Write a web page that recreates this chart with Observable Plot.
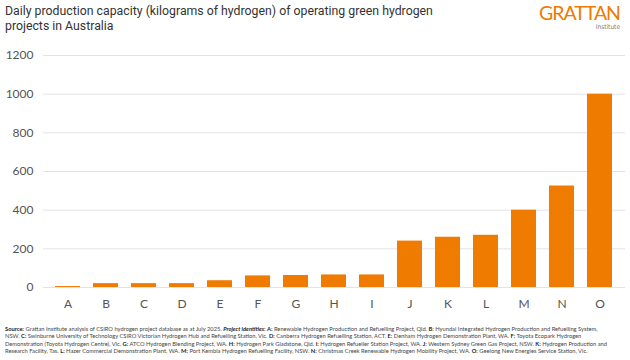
<!DOCTYPE html>
<html><head><meta charset="utf-8">
<script src="https://cdn.jsdelivr.net/npm/d3@7"></script>
<script src="https://cdn.jsdelivr.net/npm/@observablehq/plot@0.6"></script>
<style>
body{margin:0;width:630px;height:360px;background:#fff;position:relative;overflow:hidden;font-family:"Roboto",sans-serif;}
#title{position:absolute;left:5px;top:4px;white-space:nowrap;font-size:12.3px;line-height:15px;color:#333;font-family:"Roboto",sans-serif;}
#logo{position:absolute;right:10px;top:4px;text-align:right;}
#logo .g{font-family:"Lato",sans-serif;font-size:19.5px;color:#ee7a00;letter-spacing:-1px;line-height:17px;}
#logo .i{font-family:"DejaVu Sans Condensed","DejaVu Sans",sans-serif;font-size:6.5px;color:#777;line-height:7px;margin-top:3px;}
#chart{position:absolute;left:0;top:40px;}
#foot{position:absolute;left:5px;top:325px;white-space:nowrap;font-size:5.75px;line-height:7.4px;color:#444;font-family:"Lato",sans-serif;}
#foot b{color:#222;}
</style></head><body>
<div id="title">Daily production capacity (kilograms of hydrogen) of operating green hydrogen<br>projects in Australia</div>
<div id="logo"><div class="g">GRATTAN</div><div class="i">Institute</div></div>
<div id="chart"></div>
<div id="foot"></div>
<script>
const categories = ["A","B","C","D","E","F","G","H","I","J","K","L","M","N","O"];
const capacity = [5, 20, 20, 20, 35, 60, 62, 65, 65, 240, 260, 270, 400, 525, 1000];
const yTicks = [0, 200, 400, 600, 800, 1000, 1200];
const projects = [
 "Renewable Hydrogen Production and Refuelling Project, Qld.",
 "Hyundai Integrated Hydrogen Production and Refuelling System,|NSW.",
 "Swinburne University of Technology CSIRO Victorian Hydrogen Hub and Refuelling Station, Vic.",
 "Canberra Hydrogen Refuelling Station, ACT.",
 "Denham Hydrogen Demonstration Plant, WA.",
 "Toyota Ecopark Hydrogen|Demonstration (Toyota Hydrogen Centre), Vic.",
 "ATCO Hydrogen Blending Project, WA.",
 "Hydrogen Park Gladstone, Qld.",
 "Hydrogen Refueller Station Project, WA.",
 "Western Sydney Green Gas Project, NSW.",
 "Hydrogen Production and|Research Facility, Tas.",
 "Hazer Commercial Demonstration Plant, WA.",
 "Port Kembla Hydrogen Refuelling Facility, NSW.",
 "Christmas Creek Renewable Hydrogen Mobility Project, WA.",
 "Geelong New Energies Service Station, Vic."
];
const sourceText = "Grattan Institute analysis of CSIRO hydrogen project database as at July 2025.";

const data = categories.map((c, i) => ({cat: c, value: capacity[i]}));

const chart = Plot.plot({
  width: 630,
  height: 280,
  marginTop: 15,
  marginBottom: 33,
  marginLeft: 43,
  marginRight: 5,
  style: {fontFamily: "Lato, sans-serif", fontSize: "12px", color: "#555", background: "transparent"},
  x: {domain: categories, paddingInner: 0.33, paddingOuter: 0.2, label: null},
  y: {domain: [0, 1200], label: null},
  marks: [
    Plot.ruleY(yTicks, {stroke: "#e3e3e3", strokeWidth: 1}),
    Plot.barY(data, {x: "cat", y: "value", fill: "#ef7b00"}),
    Plot.axisX({tickSize: 0, tickPadding: 12, fontSize: 12, fill: "#555", label: null}),
    Plot.axisY({ticks: yTicks, tickFormat: d3.format("d"), tickSize: 0, tickPadding: 10, fontSize: 12, fill: "#555", label: null})
  ]
});
document.getElementById("chart").appendChild(chart);

let html = "<b>Source:</b> " + sourceText + " <b><i>Project identities</i>:</b> ";
html += categories.map((c, i) => "<b>" + c + ":</b> " + projects[i]).join(" ");
html = html.replace(/\|/g, "<br>");
document.getElementById("foot").innerHTML = html;
</script>
</body></html>
